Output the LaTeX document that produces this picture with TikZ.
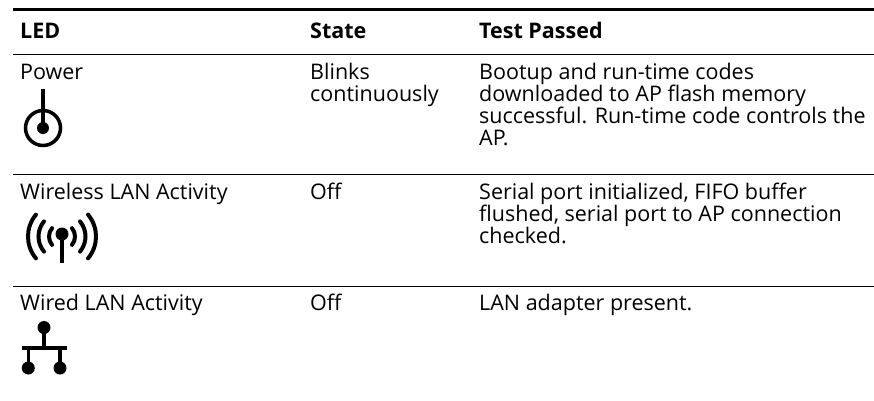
\documentclass[tikz,border=0pt]{standalone}
\usepackage{fontspec}
\setmainfont{Open Sans}
\begin{document}
\begin{tikzpicture}[x=1pt,y=-1pt,
  cell/.style={anchor=base west,inner sep=0pt,font=\fontsize{21.5}{22}\selectfont},
  head/.style={cell,font=\fontsize{21.5}{22}\selectfont\bfseries},
  thickrule/.style={line width=3.4pt},
  thinrule/.style={line width=1.2pt},
  icon/.style={line width=3.5pt},
  waves/.style={line width=4pt,line cap=round}]
\useasboundingbox (0,0) rectangle (874,400);
% rules
\coordinate (r0a) at (13,9.5);  \coordinate (r0b) at (874,9.5);
\coordinate (r1a) at (13,54.3); \coordinate (r1b) at (874,54.3);
\coordinate (r2a) at (13,174.5); \coordinate (r2b) at (874,174.5);
\coordinate (r3a) at (13,286.5); \coordinate (r3b) at (874,286.5);
\draw[thickrule] (r0a) -- (r0b);
\draw[thinrule] (r1a) -- (r1b);
\draw[thinrule] (r2a) -- (r2b);
\draw[thinrule] (r3a) -- (r3b);
% header
\node[head] (hled) at (20,38) {LED};
\node[head] (hstate) at (310,38) {State};
\node[head] (htest) at (479,38) {Test Passed};
% row 1
\node[cell] (p1) at (20,79) {Power};
\node[cell] (s1a) at (310,79) {Blinks};
\node[cell] (s1b) at (310,101) {continuously};
\node[cell] (t1a) at (479,79) {Bootup and run-time codes};
\node[cell] (t1b) at (479,101) {downloaded to AP flash memory};
\node[cell] (t1c) at (479,123) {successful. Run-time code controls the};
\node[cell] (t1d) at (479,145) {AP.};
% row 2
\node[cell] (p2) at (20,199) {Wireless LAN Activity};
\node[cell] (s2) at (310,199) {Off};
\node[cell] (t2a) at (479,199) {Serial port initialized, FIFO buffer};
\node[cell] (t2b) at (479,221) {flushed, serial port to AP connection};
\node[cell] (t2c) at (479,243) {checked.};
% row 3
\node[cell] (p3) at (20,310) {Wired LAN Activity};
\node[cell] (s3) at (310,310) {Off};
\node[cell] (t3) at (479,310) {LAN adapter present.};
% power icon
\coordinate (pw) at (43,128);
\coordinate (pwtop) at (43,89);
\draw[icon] (pwtop) -- (pw);
\draw[icon] (pw) circle[radius=17.5];
\fill (pw) circle[radius=6];
% wireless icon
\coordinate (wc) at (62,236.5);
\coordinate (wd) at (62,234);
\coordinate (wb) at (62,263);
\draw[icon] (wd) -- (wb);
\fill (wd) circle[radius=6.5];
\foreach \r in {13,23.5,34}{
  \draw[waves] ([shift={(140:\r)}]wc) arc[start angle=140,end angle=220,radius=\r];
  \draw[waves] ([shift={(-40:\r)}]wc) arc[start angle=-40,end angle=40,radius=\r];
}
% wired icon
\coordinate (nt) at (44,327.5);
\coordinate (nm) at (44,348);
\coordinate (nl) at (21.5,348);
\coordinate (nr) at (67,348);
\coordinate (nbl) at (28.3,368);
\coordinate (nbr) at (60,368);
\draw[icon] (nt) -- (nm);
\draw[line width=4pt] (nl) -- (nr);
\draw[icon] (nbl |- nm) -- (nbl);
\draw[icon] (nbr |- nm) -- (nbr);
\fill (nt) circle[radius=6.5];
\fill (nbl) circle[radius=6.5];
\fill (nbr) circle[radius=6.5];
\end{tikzpicture}
\end{document}
